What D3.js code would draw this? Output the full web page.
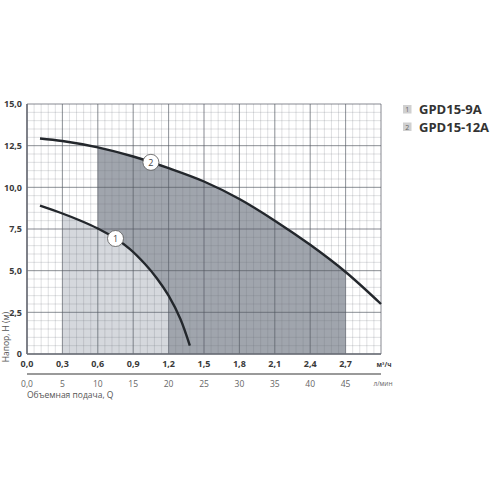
<!DOCTYPE html>
<html>
<head>
<meta charset="utf-8">
<script src="https://cdn.jsdelivr.net/npm/d3@7"></script>
<style>
  body { margin: 0; background: #fff; }
  svg { display: block; font-family: "Open Sans", "DejaVu Sans", sans-serif; }
</style>
</head>
<body>
<div id="chart"></div>
<script>
// 펌프 곡선 데이터
const pump1Q = [0.11, 0.3, 0.45, 0.6, 0.75, 0.87, 1.0, 1.1, 1.2, 1.3, 1.38];
const pump1H = [8.9, 8.43, 8.01, 7.53, 6.93, 6.31, 5.4, 4.55, 3.5, 2.1, 0.5];
const pump2Q = [0.11, 0.3, 0.6, 0.9, 1.2, 1.5, 1.8, 2.1, 2.4, 2.7, 3.0];
const pump2H = [12.93, 12.78, 12.4, 11.85, 11.15, 10.35, 9.3, 8.0, 6.55, 4.92, 3.0];

// 작동 구간 (음영)
const pump1Range = [0.3, 1.2];
const pump2Range = [0.6, 2.7];

// 라벨 위치
const labelQ = [0.75, 1.05];
const labelText = ['1', '2'];

// 축 눈금
const qTicks = [0, 0.3, 0.6, 0.9, 1.2, 1.5, 1.8, 2.1, 2.4, 2.7];
const lminTicks = [0, 5, 10, 15, 20, 25, 30, 35, 40, 45];
const lminLabels = ['0,0', '5', '10', '15', '20', '25', '30', '35', '40', '45'];
const hTicks = [0, 2.5, 5, 7.5, 10, 12.5, 15];
const hLabels = ['0', '2,5', '5,0', '7,5', '10,0', '12,5', '15,0'];

const legendNames = ['GPD15-9A', 'GPD15-12A'];

const W = 500, H = 500;
const m = { left: 27, top: 104, right: 119, bottom: 146 };
const pw = W - m.left - m.right;
const ph = H - m.top - m.bottom;

const svg = d3.select('#chart').append('svg').attr('width', W).attr('height', H);
const defs = svg.append('defs');
const g = svg.append('g').attr('transform', `translate(${m.left},${m.top})`);

const x = d3.scaleLinear().domain([0, 3.0]).range([0, pw]);
const y = d3.scaleLinear().domain([0, 15]).range([ph, 0]);
// 두 번째 축 (л/мин): 0.3 м³/ч = 5 л/мин
const x2 = d3.scaleLinear().domain([0, 50]).range([0, pw]);

const pts1 = pump1Q.map((q, i) => [q, pump1H[i]]);
const pts2 = pump2Q.map((q, i) => [q, pump2H[i]]);

const curve = d3.curveCatmullRom.alpha(0.5);
const line = d3.line().x(d => x(d[0])).y(d => y(d[1])).curve(curve);
const area = d3.area().x(d => x(d[0])).y0(y(0)).y1(d => y(d[1])).curve(curve);

// 음영 구간 clipPath
[[pump2Range, 'clip2'], [pump1Range, 'clip1']].forEach(([r, id]) => {
  defs.append('clipPath').attr('id', id).append('rect')
    .attr('x', x(r[0])).attr('y', 0)
    .attr('width', x(r[1]) - x(r[0])).attr('height', ph);
});

g.append('path').attr('d', area(pts2)).attr('fill', '#a0a5ad').attr('clip-path', 'url(#clip2)');
g.append('path').attr('d', area(pts1)).attr('fill', '#d5d8dd').attr('clip-path', 'url(#clip1)');

// 격자 (보조선)
const minorX = d3.range(0, 3.0001, 0.06);
const minorY = d3.range(0, 15.0001, 0.5);
g.append('g').selectAll('line').data(minorX).enter().append('line')
  .attr('x1', d => x(d)).attr('x2', d => x(d)).attr('y1', 0).attr('y2', ph)
  .attr('stroke', 'rgba(110,115,125,0.28)').attr('stroke-width', 0.8);
g.append('g').selectAll('line').data(minorY).enter().append('line')
  .attr('y1', d => y(d)).attr('y2', d => y(d)).attr('x1', 0).attr('x2', pw)
  .attr('stroke', 'rgba(110,115,125,0.28)').attr('stroke-width', 0.8);

// 격자 (주선)
const majorX = d3.range(0, 3.0001, 0.3);
g.append('g').selectAll('line').data(majorX).enter().append('line')
  .attr('x1', d => x(d)).attr('x2', d => x(d)).attr('y1', 0).attr('y2', ph)
  .attr('stroke', 'rgba(80,85,95,0.55)').attr('stroke-width', 1);
g.append('g').selectAll('line').data(hTicks).enter().append('line')
  .attr('y1', d => y(d)).attr('y2', d => y(d)).attr('x1', 0).attr('x2', pw)
  .attr('stroke', 'rgba(80,85,95,0.55)').attr('stroke-width', 1);

// 왼쪽/아래 테두리
g.append('line').attr('x1', 0).attr('x2', 0).attr('y1', 0).attr('y2', ph)
  .attr('stroke', '#6d7079').attr('stroke-width', 1.6);
g.append('line').attr('x1', 0).attr('x2', pw).attr('y1', ph).attr('y2', ph)
  .attr('stroke', '#6d7079').attr('stroke-width', 1.6);

// 곡선
[pts1, pts2].forEach(p => {
  g.append('path').attr('d', line(p)).attr('fill', 'none')
    .attr('stroke', '#23272c').attr('stroke-width', 2.4);
});

// 곡선 번호 라벨
function hAt(pts, q) {
  for (let i = 0; i < pts.length - 1; i++) {
    if (q >= pts[i][0] && q <= pts[i + 1][0]) {
      const t = (q - pts[i][0]) / (pts[i + 1][0] - pts[i][0]);
      return pts[i][1] + t * (pts[i + 1][1] - pts[i][1]);
    }
  }
  return pts[pts.length - 1][1];
}
[pts1, pts2].forEach((p, i) => {
  const cx = x(labelQ[i]), cy = y(hAt(p, labelQ[i]));
  g.append('circle').attr('cx', cx).attr('cy', cy).attr('r', 8)
    .attr('fill', '#fff').attr('stroke', '#555').attr('stroke-width', 0.8);
  g.append('text').attr('x', cx).attr('y', cy + 3.2).attr('text-anchor', 'middle')
    .attr('font-size', 9).attr('fill', '#444').text(labelText[i]);
});

// Y축 눈금 라벨
g.append('g').selectAll('text').data(hTicks).enter().append('text')
  .attr('x', -5).attr('y', d => y(d) + 3.2).attr('text-anchor', 'end')
  .attr('font-size', 9).attr('font-weight', 'bold').attr('fill', '#3a3a3a')
  .text((d, i) => hLabels[i]);

// X축 눈금 라벨 (м³/ч)
g.append('g').selectAll('text').data(qTicks).enter().append('text')
  .attr('x', d => x(d)).attr('y', ph + 12.5).attr('text-anchor', 'middle')
  .attr('font-size', 9).attr('font-weight', 'bold').attr('fill', '#3a3a3a')
  .text(d => d.toFixed(1).replace('.', ','));
g.append('text').attr('x', pw + 3).attr('y', ph + 13).attr('text-anchor', 'middle')
  .attr('font-size', 6.5).attr('font-weight', 'bold').attr('fill', '#3a3a3a')
  .text('м³/ч');

// 두 번째 축 (л/мин)
g.append('line').attr('x1', 0).attr('x2', pw).attr('y1', ph + 20).attr('y2', ph + 20)
  .attr('stroke', '#9a9a9a').attr('stroke-width', 1.8);
g.append('g').selectAll('text').data(lminTicks).enter().append('text')
  .attr('x', d => x2(d)).attr('y', ph + 32.5).attr('text-anchor', 'middle')
  .attr('font-size', 8.5).attr('fill', '#666')
  .text((d, i) => lminLabels[i]);
g.append('text').attr('x', pw + 2).attr('y', ph + 32).attr('text-anchor', 'middle')
  .attr('font-size', 6.5).attr('fill', '#666').text('л/мин');

// 축 제목
g.append('text').attr('x', 0).attr('y', ph + 43.5)
  .attr('font-size', 8.5).attr('fill', '#555').text('Объемная подача, Q');
svg.append('text')
  .attr('transform', `translate(9,${m.top + ph - 17}) rotate(-90)`)
  .attr('text-anchor', 'middle').attr('font-size', 8.5).attr('fill', '#555')
  .text('Напор, Н (м)');

// 범례
legendNames.forEach((name, i) => {
  const ly = 105 + i * 17.5;
  svg.append('rect').attr('x', 403).attr('y', ly).attr('width', 8.5).attr('height', 8.5)
    .attr('fill', '#d0d0d0');
  svg.append('text').attr('x', 407.3).attr('y', ly + 7).attr('text-anchor', 'middle')
    .attr('font-size', 7).attr('fill', '#666').text(labelText[i]);
  svg.append('text').attr('x', 419).attr('y', ly + 9)
    .attr('font-size', 13).attr('font-weight', 'bold').attr('fill', '#333').text(name);
});
</script>
</body>
</html>
